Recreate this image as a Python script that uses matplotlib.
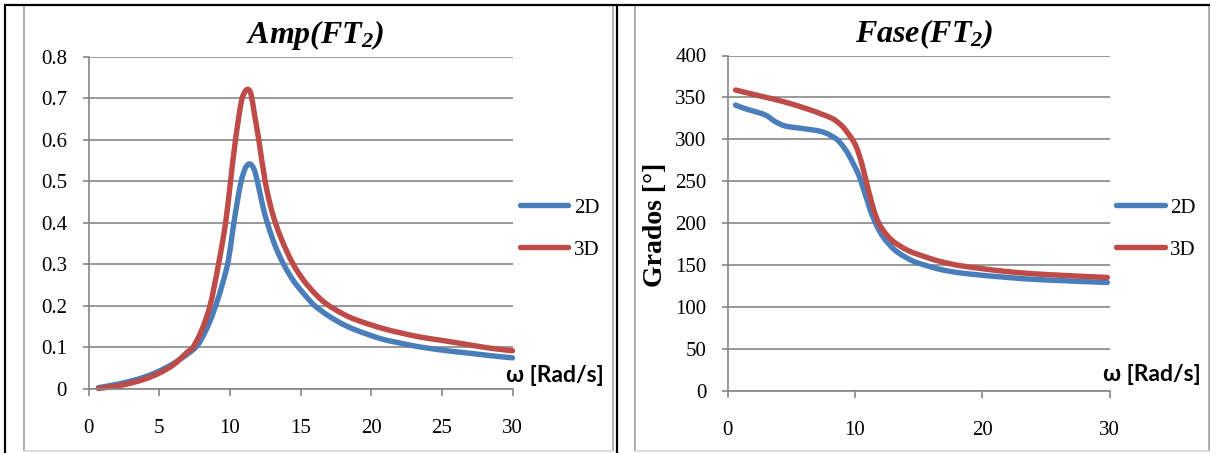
import matplotlib
matplotlib.use('Agg')
import matplotlib.pyplot as plt
from matplotlib.lines import Line2D
from matplotlib.path import Path
from matplotlib.patches import PathPatch

# ---------------- data ----------------
amp_x_2d = [0.7, 2, 3, 4, 5, 6, 7, 7.6, 8, 8.5, 9.0, 9.5, 9.9, 10.2, 10.5, 10.8,
            11.1, 11.4, 11.7, 11.95, 12.3, 12.65, 13.2, 13.8, 14.5, 15.2, 16.0,
            17, 18, 19, 20.7, 22, 23.5, 25.4, 27, 28.5, 30]
amp_y_2d = [0.002, 0.010, 0.018, 0.028, 0.042, 0.060, 0.083, 0.100, 0.120, 0.155,
            0.200, 0.255, 0.310, 0.380, 0.445, 0.500, 0.532, 0.542, 0.530, 0.500,
            0.445, 0.400, 0.345, 0.300, 0.260, 0.230, 0.200, 0.175, 0.155, 0.140,
            0.120, 0.110, 0.100, 0.091, 0.085, 0.079, 0.074]

amp_x_3d = [0.7, 2, 3, 4, 5, 6, 7, 7.4, 8, 8.6, 9.2, 9.7, 10.05, 10.4, 10.8, 11.05,
            11.28, 11.5, 11.75, 12.05, 12.5, 13.0, 13.6, 14.4, 15.2, 16.0, 16.8,
            18, 19, 20.7, 22, 23.5, 25.4, 27, 28.5, 30]
amp_y_3d = [0.000, 0.006, 0.013, 0.023, 0.037, 0.057, 0.088, 0.100, 0.140, 0.200,
            0.300, 0.400, 0.500, 0.600, 0.690, 0.715, 0.722, 0.710, 0.660, 0.600,
            0.500, 0.425, 0.365, 0.305, 0.262, 0.230, 0.205, 0.180, 0.165, 0.146,
            0.135, 0.124, 0.114, 0.105, 0.097, 0.091]

fase_x_2d = [0.63, 1.3, 1.94, 2.98, 3.77, 4.56, 5.87, 7.44, 8.48, 9.0, 9.53, 10.31,
             10.84, 11.37, 12.15, 13.2, 14.5, 15.55, 16.73, 18.5, 21.97, 25, 29.83]
fase_y_2d = [340.8, 337.0, 334.0, 328.9, 320.9, 315.7, 312.9, 308.9, 301.0, 293.0,
             281.0, 257.0, 233.0, 209.0, 185.0, 167.0, 155.0, 149.5, 144.5, 140.0,
             135.0, 132.0, 129.0]

fase_x_3d = [0.63, 2.46, 4.42, 6.39, 7.3, 8.22, 8.8, 9.27, 10.05, 10.58, 11.1, 11.63,
             12.15, 12.94, 14.2, 15.55, 16.73, 18.5, 21.97, 25, 29.83]
fase_y_3d = [358.8, 352.0, 344.8, 335.6, 330.5, 324.9, 318.5, 311.0, 293.0, 269.0,
             237.0, 209.0, 193.0, 179.0, 167.0, 159.5, 154.0, 148.5, 142.0, 138.5,
             135.0]

series_labels = ['2D', '3D']
amp_yticks = [0, 0.1, 0.2, 0.3, 0.4, 0.5, 0.6, 0.7, 0.8]
amp_xticks = [0, 5, 10, 15, 20, 25, 30]
fase_yticks = [0, 50, 100, 150, 200, 250, 300, 350, 400]
fase_xticks = [0, 10, 20, 30]

# ---------------- style ----------------
plt.rcParams['mathtext.fontset'] = 'custom'
plt.rcParams['mathtext.rm'] = 'Liberation Serif:bold:italic'
plt.rcParams['mathtext.it'] = 'Liberation Serif:bold:italic'
plt.rcParams['mathtext.bf'] = 'Liberation Serif:bold:italic'

BLUE = '#4A7EBB'
RED = '#BE4B48'
GRID = '#868686'
SERIF = 'Liberation Serif'
LW = 3.9

W, H = 1211, 453
fig = plt.figure(figsize=(W / 100, H / 100), dpi=100)
fig.patch.set_facecolor('white')


def px_rect(l, r, b, t):
    return [l / W, (H - b) / H, (r - l) / W, (b - t) / H]


def fig_line(xs, ys, color, lw_px):
    fig.add_artist(Line2D([x / W for x in xs], [(H - y) / H for y in ys],
                          transform=fig.transFigure, color=color,
                          linewidth=lw_px * 0.72, solid_capstyle='butt'))


def smooth_curve(ax, xs, ys, color):
    """Excel-style smoothed line: cubic Bezier segments through the points."""
    n = len(xs)
    verts = [(xs[0], ys[0])]
    codes = [Path.MOVETO]
    for i in range(n - 1):
        x0, y0 = (xs[i - 1], ys[i - 1]) if i > 0 else (xs[i], ys[i])
        x1, y1 = xs[i], ys[i]
        x2, y2 = xs[i + 1], ys[i + 1]
        x3, y3 = (xs[i + 2], ys[i + 2]) if i + 2 < n else (x2, y2)
        c1 = (x1 + (x2 - x0) / 6.0, y1 + (y2 - y0) / 6.0)
        c2 = (x2 - (x3 - x1) / 6.0, y2 - (y3 - y1) / 6.0)
        verts += [c1, c2, (x2, y2)]
        codes += [Path.CURVE4] * 3
    patch = PathPatch(Path(verts, codes), fill=False, edgecolor=color,
                      linewidth=LW, capstyle='round', joinstyle='round',
                      clip_on=False, transform=ax.transData)
    ax.add_patch(patch)


# chart frames (gray) and table borders (black)
fig_line([23.5, 23.5], [5, 451], '#9c9c9c', 1.6)
fig_line([613, 613], [5, 451], '#9c9c9c', 1.6)
fig_line([23.5, 613], [451, 451], '#d4d4d4', 1.6)
fig_line([634.5, 634.5], [5, 451], '#9c9c9c', 1.6)
fig_line([1209, 1209], [5, 451], '#9c9c9c', 1.6)
fig_line([634.5, 1209], [451, 451], '#d4d4d4', 1.6)
fig_line([3.5, 1210], [4.5, 4.5], 'black', 2.2)
fig_line([4.5, 4.5], [3.5, 453], 'black', 2.2)
fig_line([617, 617], [3.5, 453], 'black', 2.2)


def style_axes(ax, xticks, yticks, ylim, ypad, xpad):
    ax.set_xlim(0, 30)
    ax.set_ylim(*ylim)
    ax.set_xticks(xticks)
    ax.set_yticks(yticks)
    ax.set_xticklabels([str(t) for t in xticks])
    ax.set_yticklabels([('%g' % t) for t in yticks])
    for s in ('top', 'right'):
        ax.spines[s].set_visible(False)
    for s in ('left', 'bottom'):
        ax.spines[s].set_color(GRID)
        ax.spines[s].set_linewidth(1.2)
    ax.yaxis.grid(True, color=GRID, linewidth=1.2)
    ax.xaxis.grid(False)
    ax.set_axisbelow(True)
    ax.tick_params(axis='y', direction='out', length=4, width=1.2, color=GRID,
                   labelsize=15, pad=ypad)
    ax.tick_params(axis='x', direction='out', length=5, width=1.2, color=GRID,
                   labelsize=15, pad=xpad)
    for lab in ax.get_xticklabels() + ax.get_yticklabels():
        lab.set_fontfamily(SERIF)
    ax.patch.set_alpha(0)


def legend_handles():
    return [Line2D([], [], color=c, lw=LW, solid_capstyle='round')
            for c in (BLUE, RED)]


LEG = dict(frameon=False, borderpad=0, borderaxespad=0, handlelength=2.35,
           handletextpad=0.25, labelspacing=1.08,
           prop={'family': SERIF, 'size': 15})

# ---------------- left: amplitude ----------------
ax1 = fig.add_axes(px_rect(88.5, 512.5, 388.5, 57))
style_axes(ax1, amp_xticks, amp_yticks, (0, 0.8), 11.5, 17)
smooth_curve(ax1, amp_x_2d, amp_y_2d, BLUE)
smooth_curve(ax1, amp_x_3d, amp_y_3d, RED)
fig.text(315 / W, (H - 43) / H, r'$Amp(FT_2)$', fontsize=23, ha='center',
         va='baseline')
ax1.set_xlabel('ω [Rad/s]', fontsize=16.5, fontweight='bold', family='Lato',
               ha='right', va='baseline')
ax1.xaxis.set_label_coords((603.5 - 88.5) / 424, (388.5 - 382.5) / 331.5)
ax1.legend(legend_handles(), series_labels, loc='upper left',
           bbox_to_anchor=(519.5 / W, (H - 198) / H),
           bbox_transform=fig.transFigure, **LEG)

# ---------------- right: phase ----------------
ax2 = fig.add_axes(px_rect(727.5, 1109.5, 390.5, 55.5))
style_axes(ax2, fase_xticks, fase_yticks, (0, 400), 11, 17)
smooth_curve(ax2, fase_x_2d, fase_y_2d, BLUE)
smooth_curve(ax2, fase_x_3d, fase_y_3d, RED)
fig.text(924 / W, (H - 42) / H, r'$Fase(FT_2)$', fontsize=23, ha='center',
         va='baseline')
ax2.set_xlabel('ω [Rad/s]', fontsize=16.5, fontweight='bold', family='Lato',
               ha='right', va='baseline')
ax2.xaxis.set_label_coords((1200.5 - 727.5) / 382, (390.5 - 381) / 335)
ax2.set_ylabel('Grados [°]', fontsize=20, fontweight='bold', family=SERIF,
               va='center', ha='center')
ax2.yaxis.set_label_coords((656 - 727.5) / 382, (390.5 - 225) / 335)
ax2.legend(legend_handles(), series_labels, loc='upper left',
           bbox_to_anchor=(1116 / W, (H - 198) / H),
           bbox_transform=fig.transFigure, **LEG)

fig.savefig('out.png', dpi=100)
